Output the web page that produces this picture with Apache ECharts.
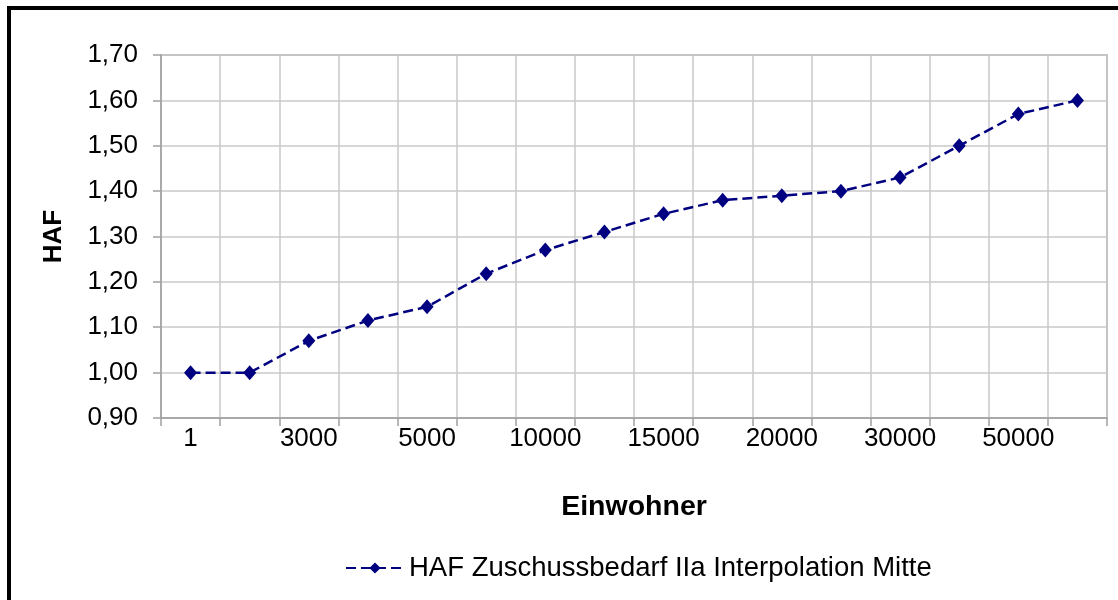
<!DOCTYPE html>
<html>
<head>
<meta charset="utf-8">
<script src="https://cdn.jsdelivr.net/npm/echarts@6/dist/echarts.min.js"></script>
<style>
html,body{margin:0;padding:0;background:#fff;}
#c{width:1118px;height:600px;}
</style>
</head>
<body>
<div id="c"></div>
<script>
var categories = ['1', '2000', '3000', '4000', '5000', '7500', '10000', '12500', '15000', '17500', '20000', '25000', '30000', '40000', '50000', '100000'];
var haf = [1.00, 1.00, 1.07, 1.115, 1.145, 1.218, 1.27, 1.31, 1.35, 1.38, 1.39, 1.40, 1.43, 1.50, 1.57, 1.60];
var seriesName = 'HAF Zuschussbedarf IIa Interpolation Mitte';

var font = 'Liberation Sans, Arial, sans-serif';
var chart = echarts.init(document.getElementById('c'), null, {renderer: 'canvas'});
chart.setOption({
  animation: false,
  backgroundColor: '#fff',
  textStyle: {fontFamily: font},
  grid: {left: 161, right: 11, top: 55, bottom: 182, show: true, borderColor: '#a0a0a0', borderWidth: 1.5, backgroundColor: '#fff'},
  graphic: [
    {type: 'rect', shape: {x: 7, y: 6, width: 4, height: 600}, style: {fill: '#000'}, z: 100},
    {type: 'rect', shape: {x: 7, y: 6, width: 1111, height: 4}, style: {fill: '#000'}, z: 100}
  ],
  xAxis: {
    type: 'category',
    data: categories,
    boundaryGap: true,
    name: 'Einwohner',
    nameLocation: 'middle',
    nameGap: 75,
    nameTextStyle: {fontSize: 28.5, fontWeight: 'bold', color: '#000', fontFamily: font},
    axisLine: {lineStyle: {color: '#a0a0a0', width: 1.5}},
    axisTick: {show: true, interval: 0, length: 8, lineStyle: {color: '#a0a0a0', width: 1.5}},
    axisLabel: {interval: 1, fontSize: 26, color: '#000', margin: 8, fontFamily: font},
    splitLine: {show: true, interval: 0, lineStyle: {color: '#c8c8c8', width: 1.5}}
  },
  yAxis: {
    type: 'value',
    min: 0.9,
    max: 1.7,
    interval: 0.1,
    name: 'HAF',
    nameLocation: 'middle',
    nameGap: 94,
    nameRotate: 90,
    nameTextStyle: {fontSize: 26, fontWeight: 'bold', color: '#000', fontFamily: font},
    axisLine: {show: true, lineStyle: {color: '#a0a0a0', width: 1.5}},
    axisTick: {show: true, length: 8, lineStyle: {color: '#a0a0a0', width: 1.5}},
    axisLabel: {fontSize: 26, color: '#000', margin: 23, fontFamily: font,
      formatter: function (v) { return v.toFixed(2).replace('.', ','); }},
    splitLine: {show: true, lineStyle: {color: '#c8c8c8', width: 1.5}}
  },
  legend: {
    data: [seriesName],
    left: 340,
    top: 549,
    itemWidth: 58,
    itemHeight: 14,
    itemGap: 10,
    textStyle: {fontSize: 27.5, color: '#000', fontFamily: font, padding: [0, 0, 0, 0]}
  },
  series: [{
    name: seriesName,
    type: 'line',
    data: haf,
    symbol: 'diamond',
    symbolSize: [13, 15],
    lineStyle: {color: '#000080', width: 2.5, type: [10, 5]},
    itemStyle: {color: '#000080'},
    z: 5
  }]
});
</script>
</body>
</html>
